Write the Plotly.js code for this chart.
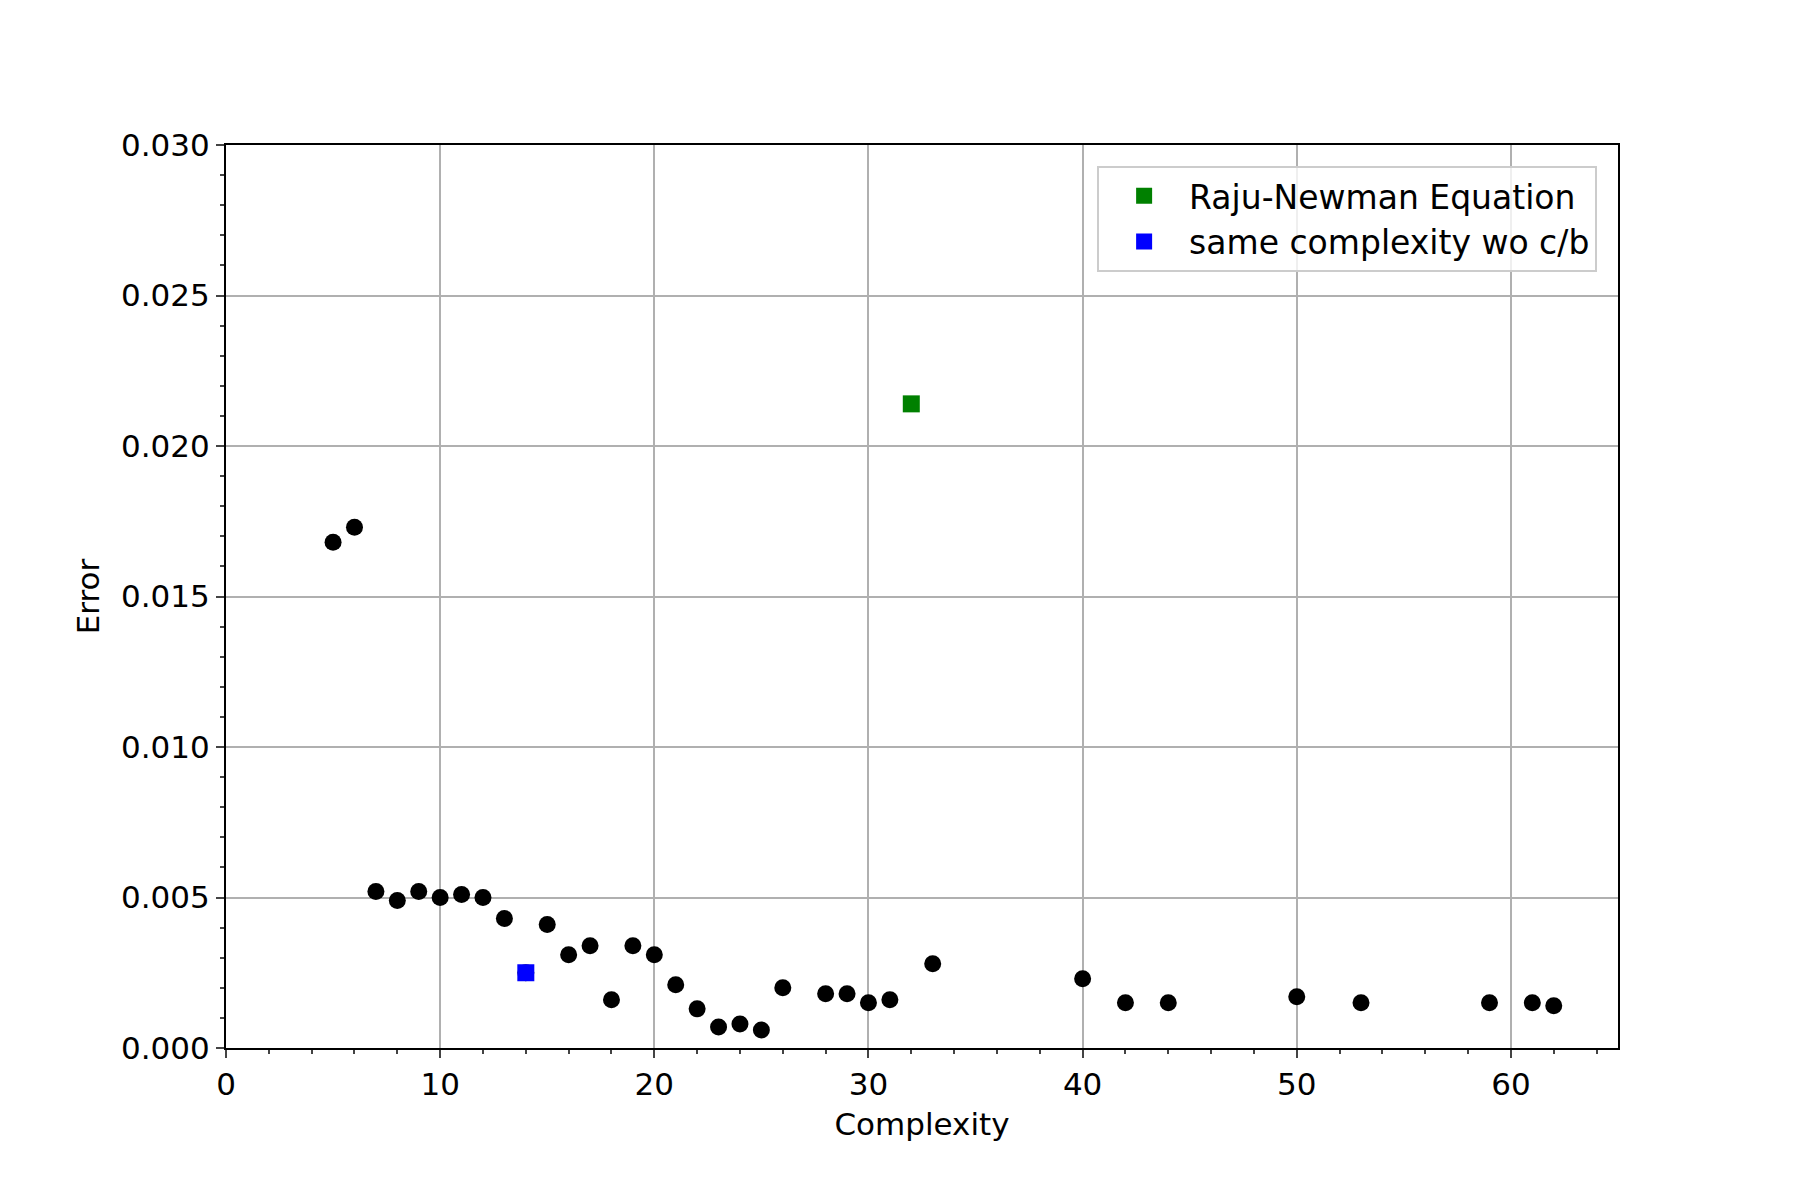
<html><head><script src="https://cdn.plot.ly/plotly-3.0.1.min.js"></script></head><body style="margin:0">
<div id="c" style="width:1800px;height:1200px"></div>
<script>
const complexity=[5,6,7,8,9,10,11,12,13,14,15,16,17,18,19,20,21,22,23,24,25,26,28,29,30,31,33,40,42,44,50,53,59,61,62];
const errors=[0.0168,0.0173,0.0052,0.0049,0.0052,0.0050,0.0051,0.0050,0.0043,0.0025,0.0041,0.0031,0.0034,0.0016,0.0034,0.0031,0.0021,0.0013,0.0007,0.0008,0.0006,0.0020,0.0018,0.0018,0.0015,0.0016,0.0028,0.0023,0.0015,0.0015,0.0017,0.0015,0.0015,0.0015,0.0014];
const rnX=[32], rnY=[0.0214];
const scX=[14], scY=[0.0025];
const f={family:'DejaVu Sans',size:31,color:'#000'};
Plotly.newPlot('c',[
 {x:complexity,y:errors,mode:'markers',marker:{color:'black',size:17},showlegend:false},
 {x:rnX,y:rnY,mode:'markers',name:'Raju-Newman Equation',marker:{color:'green',size:17,symbol:'square'}},
 {x:scX,y:scY,mode:'markers',name:'same complexity wo c/b',marker:{color:'blue',size:17,symbol:'square'}}
],{
 width:1800,height:1200,paper_bgcolor:'white',plot_bgcolor:'white',font:f,
 margin:{l:226,r:182,t:145,b:152},
 xaxis:{range:[0,65],dtick:10,showgrid:true,gridcolor:'#b0b0b0',gridwidth:2,zeroline:false,showline:true,mirror:true,linecolor:'black',linewidth:2,ticks:'outside',ticklen:8,tickwidth:2,
  minor:{dtick:2,ticks:'outside',ticklen:4,tickwidth:1.5,showgrid:false},title:{text:'Complexity',font:f,standoff:12}},
 yaxis:{range:[0,0.03],dtick:0.005,tickformat:'.3f',showgrid:true,gridcolor:'#b0b0b0',gridwidth:2,zeroline:false,showline:true,mirror:true,linecolor:'black',linewidth:2,ticks:'outside',ticklen:8,tickwidth:2,
  minor:{dtick:0.001,ticks:'outside',ticklen:4,tickwidth:1.5,showgrid:false},title:{text:'Error',font:f,standoff:12}},
 legend:{x:0.985,y:0.977,xanchor:'right',yanchor:'top',bgcolor:'rgba(255,255,255,0.8)',bordercolor:'#ccc',borderwidth:2,font:{family:'DejaVu Sans',size:33},itemwidth:80,tracegroupgap:28}
},{displayModeBar:false});
</script></body></html>
